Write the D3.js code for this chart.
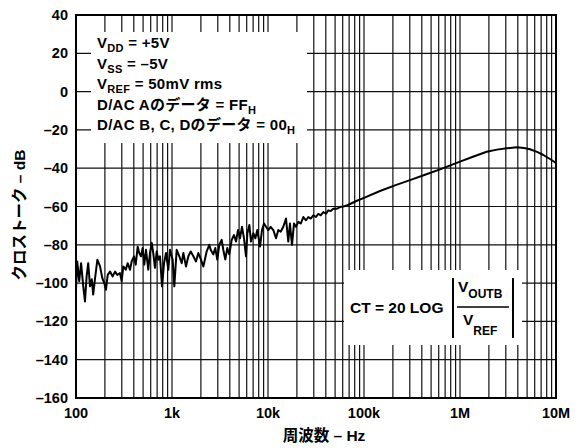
<!DOCTYPE html>
<html>
<head>
<meta charset="utf-8">
<script src="https://cdn.jsdelivr.net/npm/d3@7"></script>
<style>
  body { margin: 0; background: #fff; }
  text { font-family: "Liberation Sans", Arial, "Noto Sans CJK JP", sans-serif; font-weight: bold; }
</style>
</head>
<body>
<div id="chart"></div>
<script>
// Frequency (Hz) of each sample
const freqHz = [
  100, 103, 108, 113, 119, 124, 129, 134, 140, 146, 151, 158, 167, 178, 188, 197,
  205, 214, 226, 241, 255, 269, 287, 299, 311, 330, 345, 365, 380, 402, 419, 439,
  456, 475, 495, 514, 536, 566, 590, 615, 638, 665, 693, 720, 750, 787, 826, 866,
  915, 953, 1016, 1057, 1119, 1192, 1262, 1313, 1400, 1480, 1567, 1668, 1778, 1880,
  2004, 2120, 2296, 2447, 2528, 2692, 2825, 2962, 3110, 3294, 3422, 3590, 3767, 3953,
  4187, 4427, 4642, 4870, 5108, 5358, 5623, 5900, 6095, 6394, 6655, 7035, 7380, 7743,
  8254, 8660, 9085, 9531, 10070, 10660, 11360, 12120, 12800, 13550, 14430, 15400,
  16270, 16930, 17780, 18650, 19570, 20700, 21930, 23340, 24900, 26320, 27850, 29650,
  31620, 33440, 35380, 37670, 40180, 42470, 44970, 47860, 51860, 56230, 60870, 66020,
  71450, 84500, 100000, 146800, 210000, 301500, 431700, 619000, 1000000, 1365000,
  1897000, 2430000, 3060000, 3890000, 4640000, 5360000, 6340000, 7380000, 8660000, 10000000
];
// Crosstalk (dB) at each frequency
const crosstalkDb = [
  -103.5, -88.7, -99, -89.6, -101.7, -109.6, -96.5, -89.6, -101.7, -98, -106, -97.4, -87.8, -91.3, -97.4, -100,
  -103.5, -95.7, -94, -96.5, -94, -95.7, -94.8, -99, -91.3, -93, -89.6, -93, -88.7, -86, -90.4, -81,
  -84.3, -86, -81.7, -90.4, -82.6, -93, -84.3, -79, -84.3, -92, -83.5, -87.8, -86, -101.7, -89.6, -84.3,
  -93, -82.6, -87.8, -101.7, -82.6, -86, -89.6, -84.3, -91.3, -86, -83.5, -86, -88.7, -84.3,
  -87.8, -91.3, -83.5, -80, -82.6, -85, -81.7, -87.7, -80, -77.4, -82.6, -87.7, -81.7, -85,
  -77.4, -74.9, -78.3, -72.3, -76.6, -70.6, -76.6, -86, -74, -69.7, -78.3, -74, -76.6, -72.3,
  -80.9, -72.3, -68.9, -70.6, -72.3, -70.6, -72.3, -76.6, -72.3, -73.2, -70.6, -66.3,
  -78.3, -68.9, -80, -68.9, -70.6, -68, -68.9, -65.5, -67.2, -65.5, -66.3, -64.6,
  -65.5, -63.8, -64.6, -62.9, -63.8, -62, -62.4, -61.2, -61.2, -60.3, -60, -59.5,
  -58.7, -57, -55.5, -51.9, -49, -46.2, -43.4, -40.6, -36.6, -34,
  -31.4, -30.3, -29.6, -29.1, -29.4, -30.1, -31.5, -33.1, -35.2, -37.3
];

const yTickValues = [-160, -140, -120, -100, -80, -60, -40, -20, 0, 20, 40];
const xTickValues = [100, 1e3, 1e4, 1e5, 1e6, 1e7];
const xTickLabels = ["100", "1k", "10k", "100k", "1M", "10M"];

// legend lines: [main text, subscript, trailing text]
const legendLines = [
  ["V", "DD", " = +5V"],
  ["V", "SS", " = \u20135V"],
  ["V", "REF", " = 50mV rms"],
  ["D/AC Aのデータ = FF", "H", ""],
  ["D/AC B, C, Dのデータ = 00", "H", ""]
];

const W = 582, H = 448;
const margin = {left: 76, top: 15, right: 26, bottom: 50};
const width = W - margin.left - margin.right;
const height = H - margin.top - margin.bottom;

const svg = d3.select("#chart").append("svg")
  .attr("width", W)
  .attr("height", H);

const g = svg.append("g")
  .attr("transform", "translate(" + margin.left + "," + margin.top + ")");

const x = d3.scaleLog().domain([100, 1e7]).range([0, width]);
const y = d3.scaleLinear().domain([-160, 40]).range([height, 0]);

// Grid: log minor verticals + horizontals every 20 dB
g.append("g").selectAll("line")
  .data(x.ticks())
  .join("line")
  .attr("x1", d => x(d)).attr("x2", d => x(d))
  .attr("y1", 0).attr("y2", height)
  .attr("stroke", "#111")
  .attr("stroke-width", 1.2);

g.append("g").selectAll("line")
  .data(yTickValues)
  .join("line")
  .attr("x1", 0).attr("x2", width)
  .attr("y1", d => y(d)).attr("y2", d => y(d))
  .attr("stroke", "#111")
  .attr("stroke-width", 1.2);

// White boxes behind the notes
g.append("rect")
  .attr("x", 15).attr("y", 17)
  .attr("width", 216).attr("height", 111)
  .attr("fill", "#fff");

g.append("rect")
  .attr("x", 268).attr("y", 255)
  .attr("width", 178).attr("height", 75)
  .attr("fill", "#fff");

// Frame
g.append("rect")
  .attr("x", 0).attr("y", 0)
  .attr("width", width).attr("height", height)
  .attr("fill", "none")
  .attr("stroke", "#000")
  .attr("stroke-width", 2);

// Crosstalk trace
const line = d3.line()
  .x((d, i) => x(freqHz[i]))
  .y(d => y(d));

g.append("path")
  .datum(crosstalkDb)
  .attr("d", line)
  .attr("fill", "none")
  .attr("stroke", "#000")
  .attr("stroke-width", 2)
  .attr("stroke-linejoin", "round");

// Axis labels
g.append("g").selectAll("text")
  .data(yTickValues)
  .join("text")
  .attr("x", -8)
  .attr("y", d => y(d) + 5)
  .attr("text-anchor", "end")
  .attr("font-size", "14.5px")
  .text(d => d < 0 ? "\u2013" + Math.abs(d) : d);

g.append("g").selectAll("text")
  .data(xTickValues)
  .join("text")
  .attr("x", d => x(d))
  .attr("y", height + 20)
  .attr("text-anchor", "middle")
  .attr("font-size", "14.5px")
  .text((d, i) => xTickLabels[i]);

svg.append("text")
  .attr("x", margin.left + width / 2 + 8)
  .attr("y", 441)
  .attr("text-anchor", "middle")
  .attr("font-size", "15.5px")
  .text("周波数 \u2013 Hz");

svg.append("text")
  .attr("transform", "translate(25,215) rotate(-90)")
  .attr("text-anchor", "middle")
  .attr("font-size", "15.5px")
  .text("クロストーク \u2013 dB");

// Legend notes
const notes = g.append("g").selectAll("text")
  .data(legendLines)
  .join("text")
  .attr("x", 21)
  .attr("y", (d, i) => 33 + i * 20.5)
  .attr("font-size", "15px")
  .attr("letter-spacing", "0.3px");

notes.append("tspan").text(d => d[0]);
notes.append("tspan").attr("font-size", "11px").attr("dy", 4).text(d => d[1]);
notes.append("tspan").attr("dy", -4).text(d => d[2]);

// Formula
g.append("text")
  .attr("x", 274).attr("y", 298)
  .attr("font-size", "15.5px")
  .text("CT = 20 LOG");

g.append("line")
  .attr("x1", 377).attr("x2", 377)
  .attr("y1", 263).attr("y2", 323)
  .attr("stroke", "#000").attr("stroke-width", 2);
g.append("line")
  .attr("x1", 437).attr("x2", 437)
  .attr("y1", 263).attr("y2", 323)
  .attr("stroke", "#000").attr("stroke-width", 2);
g.append("line")
  .attr("x1", 381).attr("x2", 433)
  .attr("y1", 292).attr("y2", 292)
  .attr("stroke", "#000").attr("stroke-width", 1.5);

const num = g.append("text").attr("x", 382).attr("y", 277).attr("font-size", "15.5px");
num.append("tspan").text("V");
num.append("tspan").attr("font-size", "12px").attr("dy", 6).text("OUTB");

const den = g.append("text").attr("x", 387).attr("y", 310).attr("font-size", "15.5px");
den.append("tspan").text("V");
den.append("tspan").attr("font-size", "12px").attr("dy", 10).text("REF");
</script>
</body>
</html>
